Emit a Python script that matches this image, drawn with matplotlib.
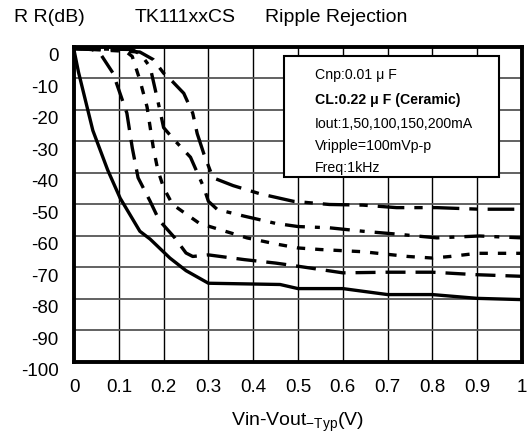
import matplotlib.pyplot as plt
from matplotlib.transforms import ScaledTranslation

plt.rcParams['font.family'] = ['Liberation Sans', 'DejaVu Sans']
plt.rcParams['axes.unicode_minus'] = False

# Iout curves (x: Vin-Vout in V, y: ripple rejection in dB)
x_1 = [0.0, 0.01, 0.042, 0.075, 0.103, 0.147, 0.17, 0.214, 0.25, 0.30, 0.46, 0.50, 0.60, 0.70, 0.80, 0.90, 1.0]
y_1 = [-1, -8, -26.5, -39, -48, -58.5, -61, -67, -71, -75, -75.4, -76.7, -76.7, -78.6, -78.6, -79.8, -80.2]

x_2 = [0.0, 0.04, 0.058, 0.087, 0.118, 0.13, 0.143, 0.17, 0.19, 0.225, 0.25, 0.265, 0.30, 0.38, 0.45, 0.50, 0.60, 0.70, 0.80, 0.90, 1.0]
y_2 = [-0.5, -0.8, -2, -8.3, -21, -32, -41.5, -49, -55, -60.6, -65.4, -66.5, -66, -67.5, -68.6, -69.6, -71.7, -71.5, -71.5, -72.3, -72.8]

x_3 = [0.0, 0.11, 0.13, 0.147, 0.163, 0.177, 0.187, 0.20, 0.22, 0.28, 0.326, 0.386, 0.453, 0.50, 0.55, 0.645, 0.745, 0.80, 0.84, 0.90, 1.0]
y_3 = [-0.5, -0.8, -3, -10.5, -19, -32, -39, -44.7, -50, -56, -58, -60.6, -62.6, -63.8, -64.3, -65, -66.5, -67, -66.5, -65.5, -65.5]

x_4 = [0.0, 0.13, 0.15, 0.17, 0.19, 0.20, 0.225, 0.26, 0.29, 0.30, 0.32, 0.38, 0.45, 0.50, 0.57, 0.645, 0.72, 0.81, 0.905, 1.0]
y_4 = [-0.5, -0.8, -2.5, -6.4, -19, -25.6, -29.7, -35, -44.7, -49, -51.6, -53.7, -56, -57, -57.4, -58.5, -59.4, -60.6, -60, -60.6]

x_5 = [0.0, 0.147, 0.177, 0.20, 0.22, 0.245, 0.265, 0.275, 0.29, 0.31, 0.355, 0.415, 0.49, 0.57, 0.645, 0.72, 0.81, 0.905, 1.0]
y_5 = [-0.5, -1.6, -4, -8.3, -11, -14.7, -21, -27.5, -34, -41.5, -44, -46.6, -49, -50, -50.2, -51, -51, -51.5, -51.5]

x_ticks = [0, 0.1, 0.2, 0.3, 0.4, 0.5, 0.6, 0.7, 0.8, 0.9, 1]
x_tick_labels = ['0', '0.1', '0.2', '0.3', '0.4', '0.5', '0.6', '0.7', '0.8', '0.9', '1']
y_ticks = [0, -10, -20, -30, -40, -50, -60, -70, -80, -90, -100]

fig = plt.figure(figsize=(5.31, 4.33), dpi=100)
ax = fig.add_axes([0.1394, 0.164, 0.8436, 0.7275])

lw = 2.4
ax.plot(x_1, y_1, color='black', lw=lw, linestyle='-')
ax.plot(x_2, y_2, color='black', lw=lw, linestyle=(0, (6, 3)))
ax.plot(x_3, y_3, color='black', lw=lw, linestyle=(0, (2.5, 3)))
ax.plot(x_4, y_4, color='black', lw=lw, linestyle=(0, (6, 3, 1.5, 3)))
ax.plot(x_5, y_5, color='black', lw=lw, linestyle=(0, (8, 3, 2.5, 3)))

ax.set_xlim(0, 1)
ax.set_ylim(-100, 0)
ax.set_xticks(x_ticks)
ax.set_xticklabels(x_tick_labels)
ax.set_yticks(y_ticks)
ax.tick_params(length=0, labelsize=13.5)
ax.tick_params(axis='x', pad=12)
ax.tick_params(axis='y', pad=11)
# y labels sit a little below their grid lines in the original
shift = ScaledTranslation(0, -8 / 100, fig.dpi_scale_trans)
for lab in ax.get_yticklabels():
    lab.set_transform(lab.get_transform() + shift)

for v in x_ticks[1:-1]:
    ax.axvline(v, color='black', lw=1.0, zorder=0)
for v in y_ticks[1:-1]:
    ax.axhline(v, color='#555555', lw=1.3, zorder=0)

for s in ax.spines.values():
    s.set_linewidth(2.8)

ax.set_xlabel('Vin-Vout$_{\\mathregular{-Typ}}$(V)', fontsize=14, labelpad=11)

fig.text(14 / 531, 1 - 18 / 433, 'R R(dB)', fontsize=14, va='center')
fig.text(135 / 531, 1 - 18 / 433, 'TK111xxCS', fontsize=14, va='center')
fig.text(265 / 531, 1 - 18 / 433, 'Ripple Rejection', fontsize=14, va='center')

# condition box
box = plt.Rectangle((284 / 531, 1 - 177 / 433), 215 / 531, 121 / 433,
                    transform=fig.transFigure, facecolor='white',
                    edgecolor='black', lw=1.5, zorder=5)
fig.add_artist(box)
notes = ['Cnp:0.01 μ F', 'CL:0.22 μ F (Ceramic)', 'Iout:1,50,100,150,200mA',
         'Vripple=100mVp-p', 'Freq:1kHz']
ys = [75, 100, 124, 146, 168]
for t, yy in zip(notes, ys):
    fig.text(315 / 531, 1 - yy / 433, t, fontsize=10.2, va='center', zorder=6,
             fontweight='bold' if t.startswith('CL') else 'normal')

fig.savefig('out.png', dpi=100)
